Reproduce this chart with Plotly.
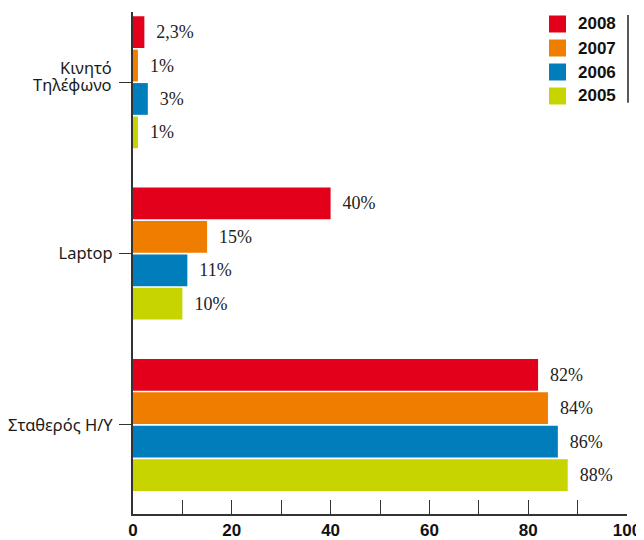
import plotly.graph_objects as go

categories = ["Κινητό<br>Τηλέφωνο", "Laptop", "Σταθερός Η/Υ"]
years = ["2008", "2007", "2006", "2005"]
values_2008 = [2.3, 40, 82]
values_2007 = [1, 15, 84]
values_2006 = [3, 11, 86]
values_2005 = [1, 10, 88]
labels_2008 = ["2,3%", "40%", "82%"]
labels_2007 = ["1%", "15%", "84%"]
labels_2006 = ["3%", "11%", "86%"]
labels_2005 = ["1%", "10%", "88%"]
colors = ["#E2001A", "#EF7D00", "#007DBA", "#C8D400"]

series = [
    (values_2008, labels_2008),
    (values_2007, labels_2007),
    (values_2006, labels_2006),
    (values_2005, labels_2005),
]

fig = go.Figure()
for year, (vals, labs), col in zip(years, series, colors):
    fig.add_trace(go.Bar(
        name=year, y=categories, x=vals, orientation="h",
        marker=dict(color=col, line=dict(width=0)),
        text=["  " + t for t in labs], textposition="outside",
        textfont=dict(family="Liberation Serif", size=18, color="#222222"),
        cliponaxis=False, showlegend=False,
    ))

# the page body adds an 8px margin, so the figure is 8px smaller and shifted
W, H = 636, 532
L, R, T, B = 125, 17, 4, 26
pw, ph = W - L - R, H - T - B
label_font = dict(family="Noto Sans", size=16.5, color="#1a1a1a")

# two-line label is drawn by hand (tighter line spacing than a tick label)
ticktext = ["" if "<br>" in c else c for c in categories]

fig.update_layout(
    width=W, height=H,
    margin=dict(l=L, r=R, t=T, b=B),
    paper_bgcolor="white", plot_bgcolor="white",
    barmode="group", bargap=0.22, bargroupgap=0.05,
    font=label_font,
    showlegend=False,
    xaxis=dict(
        range=[0, 100], dtick=20, showgrid=False, zeroline=False, automargin=False,
        showline=True, linecolor="#333333", linewidth=2,
        ticks="inside", ticklen=14, tickcolor="#333333", tickwidth=1,
        minor=dict(dtick=10, ticks="inside", ticklen=14, tickcolor="#333333", showgrid=False),
        tickfont=dict(family="Liberation Sans", size=17, color="#111111", weight="bold"),
    ),
    yaxis=dict(
        range=[2.52, -0.41], showgrid=False, zeroline=False, automargin=False,
        showline=True, linecolor="#333333", linewidth=2,
        ticks="outside", ticklen=12, tickcolor="#333333",
        tickmode="array", tickvals=categories, ticktext=ticktext,
        ticklabelstandoff=3,
    ),
)

for c in categories:
    if "<br>" in c:
        first, second = c.split("<br>")
        for part, shift in ((first, 15), (second, -2)):
            fig.add_annotation(xref="paper", yref="y", x=0, y=c, text=part,
                               showarrow=False, xanchor="right", yanchor="middle",
                               xshift=-19, yshift=shift, font=label_font)

# hand-made legend: square swatches + bold year labels, top right
for i, (year, col) in enumerate(zip(years, colors)):
    cy = 16 + 24 * i  # px from figure top
    fig.add_shape(type="rect", xref="paper", yref="paper",
                  x0=(541 - L) / pw, x1=(558 - L) / pw,
                  y0=1 - (cy + 8.5 - T) / ph, y1=1 - (cy - 8.5 - T) / ph,
                  fillcolor=col, line=dict(width=0))
    fig.add_annotation(xref="paper", yref="paper", x=(568 - L) / pw, y=1 - (cy - T) / ph,
                       text=year, showarrow=False, xanchor="left", yanchor="middle",
                       font=dict(family="Liberation Sans", size=17, color="#111111", weight="bold"))

# thin rule to the right of the legend
fig.add_shape(type="line", xref="paper", yref="paper", x0=1.002, x1=1.002, y0=0.819, y1=0.994,
              line=dict(color="#222222", width=1.5))

fig.write_html("out.html")
